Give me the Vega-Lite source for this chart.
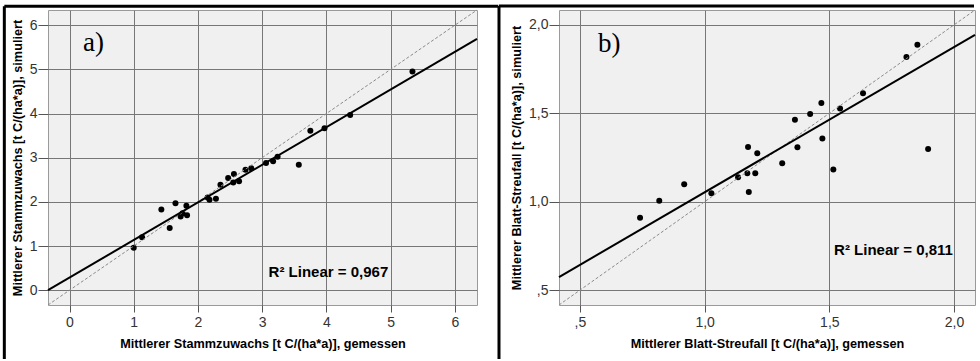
{
  "$schema": "https://vega.github.io/schema/vega-lite/v6.json",
  "background": "white",
  "padding": {"left": 2, "top": 4, "right": 0, "bottom": 0},
  "spacing": -5,
  "config": {
    "view": {"fill": "#f0f0f0", "stroke": "#9a9a9a", "strokeWidth": 1},
    "font": "Liberation Sans",
    "axis": {
      "grid": true, "gridColor": "#777777", "gridWidth": 1, "gridOpacity": 1,
      "domain": false, "tickColor": "#555555", "tickWidth": 1,
      "labelFont": "Liberation Sans", "labelFontSize": 14, "labelColor": "#333333",
      "titleFont": "Liberation Sans", "titleFontSize": 12.7, "titleFontWeight": "bold", "titleColor": "#000000"
    },
    "axisX": {"tickSize": 7, "labelPadding": 3, "titlePadding": 8},
    "axisY": {"tickSize": 10, "labelPadding": 1, "titlePadding": 5}
  },
  "datasets": {
    "pointsA": [
      {"x": 1.00, "y": 0.96}, {"x": 1.13, "y": 1.20}, {"x": 1.43, "y": 1.83}, {"x": 1.65, "y": 1.97},
      {"x": 1.56, "y": 1.41}, {"x": 1.73, "y": 1.67}, {"x": 1.76, "y": 1.74}, {"x": 1.82, "y": 1.91},
      {"x": 1.83, "y": 1.70}, {"x": 2.15, "y": 2.10}, {"x": 2.18, "y": 2.05}, {"x": 2.28, "y": 2.07},
      {"x": 2.35, "y": 2.39}, {"x": 2.47, "y": 2.54}, {"x": 2.56, "y": 2.63}, {"x": 2.55, "y": 2.44},
      {"x": 2.64, "y": 2.47}, {"x": 2.74, "y": 2.73}, {"x": 2.83, "y": 2.76}, {"x": 3.06, "y": 2.88},
      {"x": 3.17, "y": 2.92}, {"x": 3.24, "y": 3.02}, {"x": 3.57, "y": 2.84}, {"x": 3.75, "y": 3.61},
      {"x": 3.97, "y": 3.67}, {"x": 4.37, "y": 3.97}, {"x": 5.34, "y": 4.95}
    ],
    "regA": [{"x": -0.335, "y": 0.0}, {"x": 6.345, "y": 5.69}],
    "idA": [{"x": -0.335, "y": -0.335}, {"x": 6.345, "y": 6.345}],
    "pointsB": [
      {"x": 0.741, "y": 0.909}, {"x": 0.818, "y": 1.005}, {"x": 0.918, "y": 1.099}, {"x": 1.027, "y": 1.048},
      {"x": 1.134, "y": 1.138}, {"x": 1.171, "y": 1.161}, {"x": 1.203, "y": 1.161}, {"x": 1.177, "y": 1.055},
      {"x": 1.174, "y": 1.310}, {"x": 1.211, "y": 1.274}, {"x": 1.311, "y": 1.217}, {"x": 1.362, "y": 1.464},
      {"x": 1.372, "y": 1.308}, {"x": 1.423, "y": 1.496}, {"x": 1.468, "y": 1.558}, {"x": 1.472, "y": 1.357},
      {"x": 1.516, "y": 1.182}, {"x": 1.543, "y": 1.527}, {"x": 1.635, "y": 1.613}, {"x": 1.809, "y": 1.818},
      {"x": 1.853, "y": 1.888}, {"x": 1.896, "y": 1.298}
    ],
    "regB": [{"x": 0.416, "y": 0.574}, {"x": 2.084, "y": 1.943}],
    "idB": [{"x": 0.416, "y": 0.416}, {"x": 2.084, "y": 2.084}]
  },
  "hconcat": [
    {
      "width": 429,
      "height": 295,
      "layer": [
        {
          "data": {"name": "pointsA"},
          "mark": {"type": "circle", "color": "black", "size": 36, "opacity": 1},
          "encoding": {
            "x": {"field": "x", "type": "quantitative",
              "scale": {"domain": [-0.335, 6.345], "nice": false, "zero": false},
              "axis": {"values": [0, 1, 2, 3, 4, 5, 6], "format": "d", "title": "Mittlerer Stammzuwachs [t C/(ha*a)], gemessen"}},
            "y": {"field": "y", "type": "quantitative",
              "scale": {"domain": [-0.335, 6.345], "nice": false, "zero": false},
              "axis": {"values": [0, 1, 2, 3, 4, 5, 6], "format": "d", "title": "Mittlerer Stammzuwachs [t C/(ha*a)], simuliert"}}
          }
        },
        {
          "data": {"name": "idA"},
          "mark": {"type": "line", "color": "#8a8a8a", "strokeWidth": 1, "strokeDash": [3, 2]},
          "encoding": {"x": {"field": "x", "type": "quantitative"}, "y": {"field": "y", "type": "quantitative"}}
        },
        {
          "data": {"name": "regA"},
          "mark": {"type": "line", "color": "black", "strokeWidth": 2},
          "encoding": {"x": {"field": "x", "type": "quantitative"}, "y": {"field": "y", "type": "quantitative"}}
        },
        {
          "data": {"values": [{}]},
          "mark": {"type": "text", "text": "a)", "font": "Liberation Serif", "fontSize": 27, "align": "left", "baseline": "alphabetic", "color": "black"},
          "encoding": {"x": {"datum": 0.21, "type": "quantitative"}, "y": {"datum": 5.41, "type": "quantitative"}}
        },
        {
          "data": {"values": [{}]},
          "mark": {"type": "text", "text": "R² Linear = 0,967", "font": "Liberation Sans", "fontSize": 15, "fontWeight": "bold", "align": "left", "baseline": "alphabetic", "color": "black"},
          "encoding": {"x": {"datum": 3.10, "type": "quantitative"}, "y": {"datum": 0.30, "type": "quantitative"}}
        },
        {
          "data": {"values": [{}]},
          "mark": {"type": "rule", "color": "black", "strokeWidth": 3, "clip": false},
          "encoding": {"x": {"datum": -1.015, "type": "quantitative"}, "y": {"datum": 6.4306, "type": "quantitative"}, "y2": {"datum": -1.56}}
        },
        {
          "data": {"values": [{}]},
          "mark": {"type": "rule", "color": "black", "strokeWidth": 3, "clip": false},
          "encoding": {"x": {"datum": -1.015, "type": "quantitative"}, "x2": {"datum": 6.677}, "y": {"datum": 6.4306, "type": "quantitative"}}
        }
      ]
    },
    {
      "width": 416,
      "height": 295,
      "layer": [
        {
          "data": {"name": "pointsB"},
          "mark": {"type": "circle", "color": "black", "size": 36, "opacity": 1},
          "encoding": {
            "x": {"field": "x", "type": "quantitative",
              "scale": {"domain": [0.416, 2.084], "nice": false, "zero": false},
              "axis": {"values": [0.5, 1, 1.5, 2], "labelExpr": "datum.value == 0.5 ? ',5' : replace(format(datum.value, '.1f'), '.', ',')", "title": "Mittlerer Blatt-Streufall [t C/(ha*a)], gemessen"}},
            "y": {"field": "y", "type": "quantitative",
              "scale": {"domain": [0.416, 2.084], "nice": false, "zero": false},
              "axis": {"values": [0.5, 1, 1.5, 2], "labelExpr": "datum.value == 0.5 ? ',5' : replace(format(datum.value, '.1f'), '.', ',')", "title": "Mittlerer Blatt-Streufall [t C/(ha*a)], simuliert"}}
          }
        },
        {
          "data": {"name": "idB"},
          "mark": {"type": "line", "color": "#8a8a8a", "strokeWidth": 1, "strokeDash": [3, 2]},
          "encoding": {"x": {"field": "x", "type": "quantitative"}, "y": {"field": "y", "type": "quantitative"}}
        },
        {
          "data": {"name": "regB"},
          "mark": {"type": "line", "color": "black", "strokeWidth": 2},
          "encoding": {"x": {"field": "x", "type": "quantitative"}, "y": {"field": "y", "type": "quantitative"}}
        },
        {
          "data": {"values": [{}]},
          "mark": {"type": "text", "text": "b)", "font": "Liberation Serif", "fontSize": 27, "align": "left", "baseline": "alphabetic", "color": "black"},
          "encoding": {"x": {"datum": 0.572, "type": "quantitative"}, "y": {"datum": 1.845, "type": "quantitative"}}
        },
        {
          "data": {"values": [{}]},
          "mark": {"type": "text", "text": "R² Linear = 0,811", "font": "Liberation Sans", "fontSize": 15, "fontWeight": "bold", "align": "left", "baseline": "alphabetic", "color": "black"},
          "encoding": {"x": {"datum": 1.519, "type": "quantitative"}, "y": {"datum": 0.698, "type": "quantitative"}}
        },
        {
          "data": {"values": [{}]},
          "mark": {"type": "rule", "color": "black", "strokeWidth": 3, "clip": false},
          "encoding": {"x": {"datum": 0.1754, "type": "quantitative"}, "y": {"datum": 2.1066, "type": "quantitative"}, "y2": {"datum": 0.11}}
        },
        {
          "data": {"values": [{}]},
          "mark": {"type": "rule", "color": "black", "strokeWidth": 3, "clip": false},
          "encoding": {"x": {"datum": 0.1754, "type": "quantitative"}, "x2": {"datum": 2.080}, "y": {"datum": 2.1066, "type": "quantitative"}}
        }
      ]
    }
  ]
}
